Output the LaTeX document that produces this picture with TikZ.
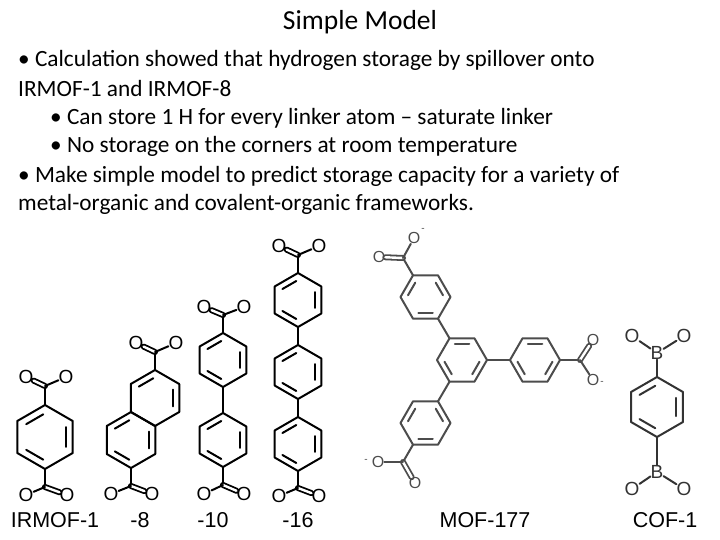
\documentclass[tikz,border=0pt]{standalone}
\usepackage{fontspec}
\setmainfont{Carlito}
\newfontfamily\arial{Liberation Sans}
\tikzset{bond/.style={line width=2pt,line cap=round,line join=round},
 atom/.style={inner sep=0pt,font=\arial\fontsize{19}{19}\selectfont},
 lbl/.style={font=\arial\fontsize{21.5}{22}\selectfont},
 txt/.style={anchor=west,inner sep=0,font=\fontsize{23.3}{24}\selectfont},
 dbl/.style={line width=1.8pt,line cap=round,double,double distance=2.4pt}}
\newcommand\hexr[5]{\begin{scope}[shift={(#1,#2)}]
\draw[bond] (#4:#3)--(#4+60:#3)--(#4+120:#3)--(#4+180:#3)--(#4+240:#3)--(#4+300:#3)--cycle;
\foreach \k in {#5} \draw[bond,shorten <=2pt,shorten >=2pt] (#4+60*\k:0.74*#3)--(#4+60*\k+60:0.74*#3);
\end{scope}}
% vertex, C, double O, single O
\newcommand\carbox[8]{\draw[bond] (#1,#2)--(#3,#4);
\node[atom] (od) at (#5,#6){O}; \node[atom] (os) at (#7,#8){O};
\draw[dbl] (#3,#4)--(od); \draw[bond] (#3,#4)--(os);}
\begin{document}
\begin{tikzpicture}[x=1pt,y=-1pt]
\useasboundingbox (0,0) rectangle (720,540);
\node[font=\fontsize{27.5}{28}\selectfont] (title) at (360,22) {Simple Model};
\node[txt] (l1) at (18,60) {• Calculation showed that hydrogen storage by spillover onto};
\node[txt] (l2) at (18,88) {IRMOF-1 and IRMOF-8};
\node[txt] (l3) at (50,118) {• Can store 1 H for every linker atom – saturate linker};
\node[txt] (l4) at (50,146) {• No storage on the corners at room temperature};
\node[txt] (l5) at (18,176) {• Make simple model to predict storage capacity for a variety of};
\node[txt] (l6) at (18,204) {metal-organic and covalent-organic frameworks.};
% IRMOF-1
\hexr{45}{437}{32}{90}{0,2,4}
\carbox{45}{405}{45}{386}{26}{377}{66}{377}
\carbox{45}{469}{45}{487}{67}{495}{26}{495}
% IRMOF-8
\hexr{131}{440}{28}{90}{0,2,4}
\hexr{155}{398}{28}{90}{2,4}
\carbox{155}{370}{155}{352}{136}{343}{176}{343}
\carbox{131}{468}{131}{486}{152}{494}{111}{494}
% IRMOF-10
\hexr{223}{360}{27}{90}{0,2,4}
\hexr{223}{440}{27}{90}{0,2,4}
\draw[bond] (223,387)--(223,413);
\carbox{223}{333}{223}{315}{204}{307}{244}{307}
\carbox{223}{467}{223}{485}{244}{494}{204}{494}
% IRMOF-16
\hexr{298}{300}{27}{90}{0,2,4}
\hexr{298}{372}{27}{90}{0,2,4}
\hexr{298}{444}{27}{90}{0,2,4}
\draw[bond] (298,327)--(298,345);
\draw[bond] (298,399)--(298,417);
\carbox{298}{273}{298}{255}{279}{246}{319}{246}
\carbox{298}{471}{298}{488}{319}{496}{279}{496}
% MOF-177
\begin{scope}[color=black!70,atom/.append style={font=\arial\fontsize{16}{16}\selectfont}]
\hexr{462}{360}{25}{0}{0,2,4}
\hexr{535}{360}{25}{0}{0,2,4}
\hexr{425.5}{297}{25}{0}{1,3,5}
\hexr{425.5}{423}{25}{0}{1,3,5}
\draw[bond] (487,360)--(510,360);
\draw[bond] (449.5,338.3)--(438,318.7);
\draw[bond] (449.5,381.7)--(438,401.3);
\carbox{560}{360}{580}{360}{593}{340}{593}{380}
\node[atom,font=\arial\fontsize{10}{10}\selectfont] (m1) at (602,383) {-};
\carbox{413}{275.3}{403}{258}{379}{257}{414}{238}
\node[atom,font=\arial\fontsize{10}{10}\selectfont] (m2) at (423,230) {-};
\carbox{413}{444.7}{403}{462}{415}{483}{378}{462}
\node[atom,font=\arial\fontsize{10}{10}\selectfont] (m3) at (366,461) {-};
\end{scope}
% COF-1
\begin{scope}[color=black!80]
\hexr{657}{407}{30}{90}{0,2,4}
\node[atom] (b1) at (657,353) {B};
\node[atom] (b2) at (657,472) {B};
\node[atom] (o1) at (632,336) {O};
\node[atom] (o2) at (684,336) {O};
\node[atom] (o3) at (632,489) {O};
\node[atom] (o4) at (684,489) {O};
\draw[bond] (657,377)--(b1); \draw[bond] (657,437)--(b2);
\draw[bond] (b1)--(o1); \draw[bond] (b1)--(o2);
\draw[bond] (b2)--(o3); \draw[bond] (b2)--(o4);
\end{scope}
\node[lbl] (n1) at (55,520) {IRMOF-1};
\node[lbl] (n2) at (140,520) {-8};
\node[lbl] (n3) at (213,520) {-10};
\node[lbl] (n4) at (298,520) {-16};
\node[lbl] (n5) at (485,520) {MOF-177};
\node[lbl] (n6) at (665,520) {COF-1};
\end{tikzpicture}
\end{document}
